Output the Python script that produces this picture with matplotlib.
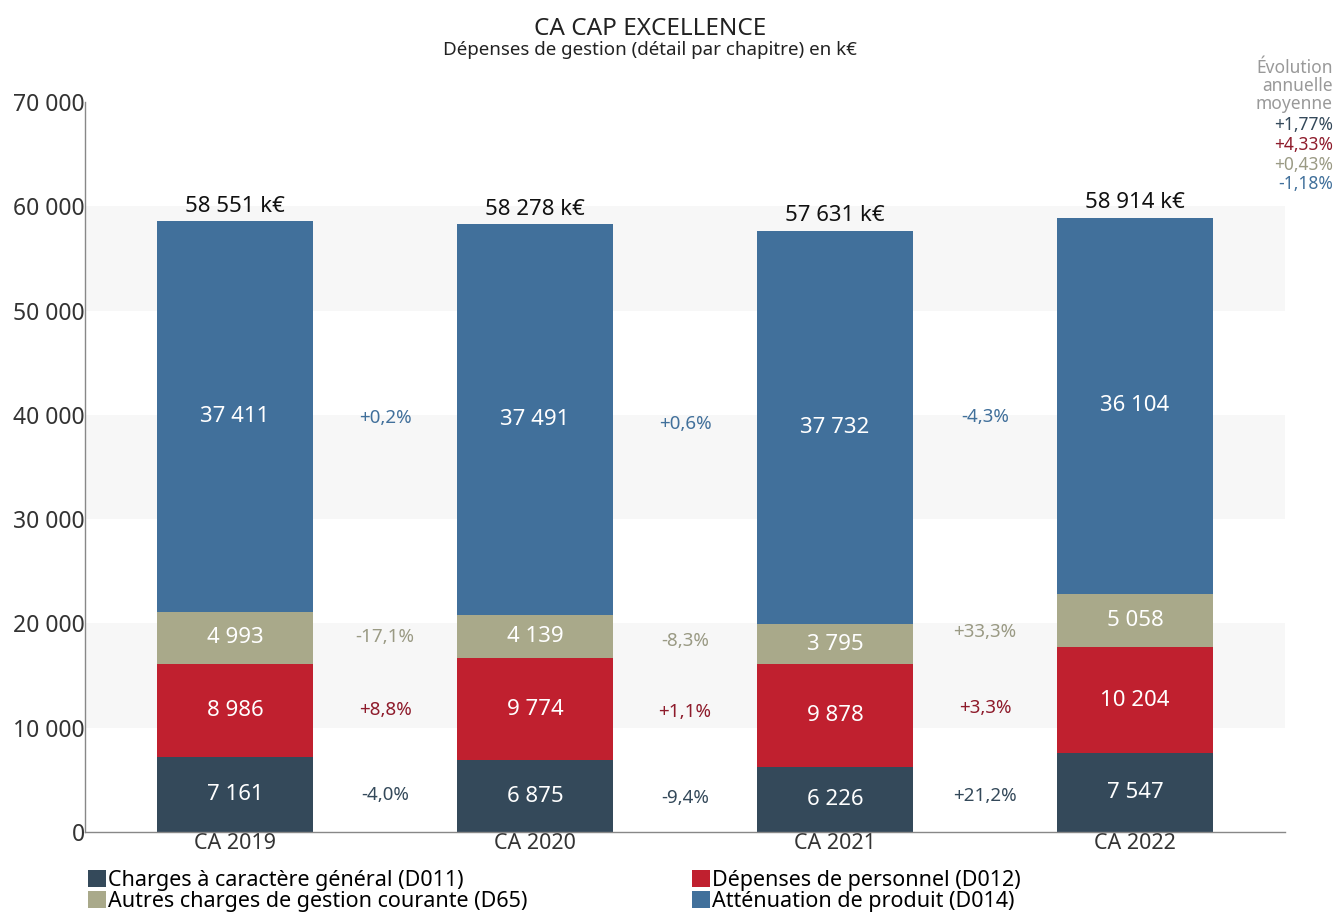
import matplotlib.pyplot as plt
import numpy as np
from matplotlib.patches import Patch

plt.rcParams['font.family'] = ['Noto Sans', 'DejaVu Sans']

categories = ["CA 2019", "CA 2020", "CA 2021", "CA 2022"]
series_names = ["Charges à caractère général (D011)", "Dépenses de personnel (D012)",
                "Autres charges de gestion courante (D65)", "Atténuation de produit (D014)"]
d011 = [7161, 6875, 6226, 7547]
d012 = [8986, 9774, 9878, 10204]
d65 = [4993, 4139, 3795, 5058]
d014 = [37411, 37491, 37732, 36104]
totals = [58551, 58278, 57631, 58914]
evol_d011 = ["-4,0%", "-9,4%", "+21,2%"]
evol_d012 = ["+8,8%", "+1,1%", "+3,3%"]
evol_d65 = ["-17,1%", "-8,3%", "+33,3%"]
evol_d014 = ["+0,2%", "+0,6%", "-4,3%"]
avg_evol = ["+1,77%", "+4,33%", "+0,43%", "-1,18%"]

colors = ['#34495a', '#c0202f', '#a9a98a', '#41709b']
text_colors = ['#34495a', '#8e1b2b', '#9a9a84', '#41709b']

def fmt(v):
    return f"{v:,}".replace(",", " ")

fig = plt.figure(figsize=(13.37, 9.13), dpi=100)
ax = fig.add_axes([0.0636, 0.0887, 0.8975, 0.7996])

x = np.arange(len(categories))
series = [d011, d012, d65, d014]
evols = [evol_d011, evol_d012, evol_d65, evol_d014]
width = 0.523

# bandes grises
for lo in (10000, 30000, 50000):
    ax.axhspan(lo, lo + 10000, color='#f7f7f7', zorder=0, lw=0)

bottom = np.zeros(len(categories))
for vals, col, ev, tc in zip(series, colors, evols, text_colors):
    vals = np.array(vals)
    ax.bar(x, vals, width, bottom=bottom, color=col, zorder=2)
    centers = bottom + vals / 2
    for xi, c, v in zip(x, centers, vals):
        ax.text(xi, c, fmt(int(v)), ha='center', va='center', color='white', fontsize=16, zorder=3)
    for i, s in enumerate(ev):
        ax.text(x[i] + 0.5, (centers[i] + centers[i + 1]) / 2, s, ha='center', va='center',
                color=tc, fontsize=13.5)
    bottom = bottom + vals

for xi, top, tot in zip(x, bottom, totals):
    ax.text(xi, top + 450, f"{fmt(tot)} k€", ha='center', va='bottom', fontsize=16, color='#111111')

ax.set_xlim(-0.5, 3.5)
ax.set_ylim(0, 70000)
ax.set_yticks(range(0, 70001, 10000))
ax.set_yticklabels([fmt(v) for v in range(0, 70001, 10000)], fontsize=16.5, color='#333333')
ax.set_xticks(x)
ax.set_xticklabels(categories, fontsize=15.5, color='#333333')
ax.tick_params(length=0, pad=1)
ax.tick_params(axis='y', pad=0)
for s in ['top', 'right']:
    ax.spines[s].set_visible(False)
for s in ['left', 'bottom']:
    ax.spines[s].set_color('#888888')
    ax.spines[s].set_linewidth(1)

fig.text(0.486, 0.968, "CA CAP EXCELLENCE", ha='center', va='center', fontsize=17.5, color='#222222')
fig.text(0.486, 0.945, "Dépenses de gestion (détail par chapitre) en k€", ha='center', va='center',
         fontsize=13.5, color='#222222')

fig.text(0.997, 0.906, "Évolution\nannuelle\nmoyenne", ha='right', va='center', fontsize=12.5,
         color='#999999', linespacing=1.0)
for i, (s, tc) in enumerate(zip(avg_evol, text_colors)):
    fig.text(0.997, 0.863 - i * 0.0216, s, ha='right', va='center', fontsize=12.5, color=tc)

handles = [Patch(facecolor=c) for c in colors]
order = [0, 2, 1, 3]
fig.legend([handles[i] for i in order], [series_names[i] for i in order], ncol=2,
           loc='lower left', bbox_to_anchor=(0.051, -0.02), frameon=False, fontsize=15.5,
           handlelength=0.85, handleheight=0.85, handletextpad=0.12, labelspacing=0.0,
           columnspacing=7.6)

fig.savefig("out.png", dpi=100)
